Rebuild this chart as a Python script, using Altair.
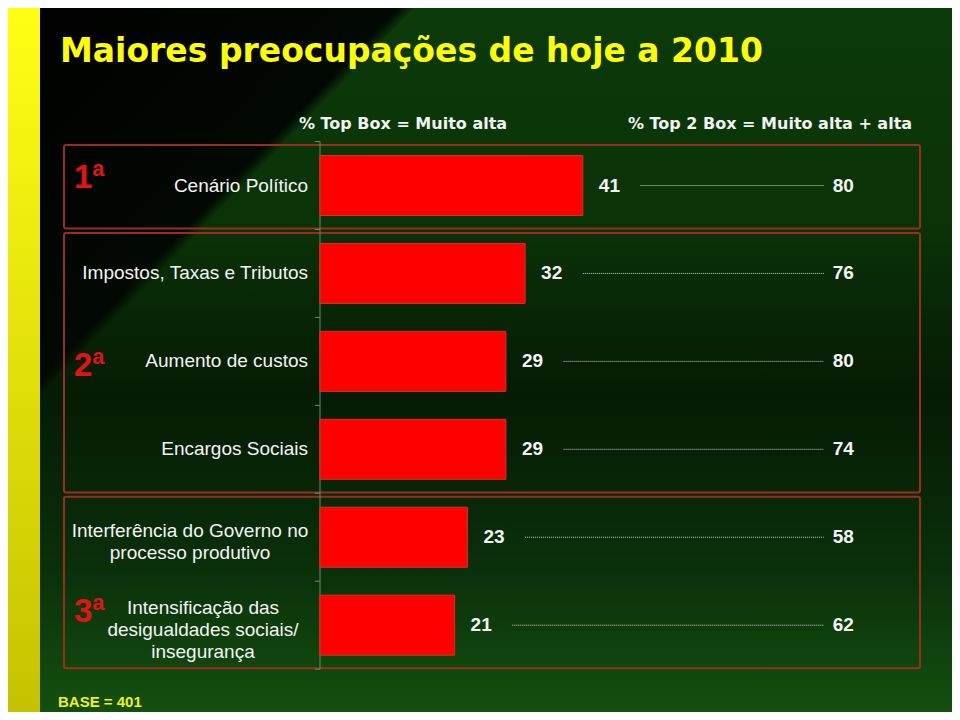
import altair as alt
import pandas as pd

# ---------------- data ----------------
categories = [
    "Cenário Político",
    "Impostos, Taxas e Tributos",
    "Aumento de custos",
    "Encargos Sociais",
    "Interferência do Governo no\nprocesso produtivo",
    "Intensificação das\ndesigualdades sociais/\ninsegurança",
]
top_box = [41, 32, 29, 29, 23, 21]
top2_box = [80, 76, 80, 74, 58, 62]
rank_labels = ["1ª", "2ª", "3ª"]
rank_rows = [0, 2, 5]
group_first = [0, 1, 4]
group_last = [0, 3, 5]
header_texts = ["% Top Box = Muito alta", "% Top 2 Box = Muito alta + alta"]
title_text = "Maiores preocupações de hoje a 2010"
base_note = "BASE = 401"

# ---------------- layout ----------------
W, H = 944, 704
PX_PER_UNIT = 6.41
X0 = 312          # pixel position of value 0
ROW0 = 175        # pixel centre of first row
ROW_STEP = 89.2
LINE_H = 22

xscale = alt.Scale(domain=[-X0 / PX_PER_UNIT, (W - X0) / PX_PER_UNIT], nice=False, zero=False)
yscale = alt.Scale(domain=[-ROW0 / ROW_STEP, (H - ROW0) / ROW_STEP], reverse=True, nice=False, zero=False)

rows = pd.DataFrame({"label": categories, "top": top_box, "top2": top2_box,
                     "row": list(range(len(categories)))})
rows["line_start"] = rows["top"] + 9
rows["line_end"] = 78.6
rows["right_x"] = 80.0
rows["nlines"] = rows["label"].str.count("\n") + 1
rows["multi"] = rows["nlines"] > 1
# first line of a wrapped label is shifted up so the block is centred on the row
rows["label_y"] = rows["row"] - ((rows["nlines"] - 1) * LINE_H / 2 - 5 * (rows["nlines"] > 1)) / ROW_STEP

groups = pd.DataFrame({"first": group_first, "last": group_last})
groups["y_top"] = groups["first"] - 0.46
groups["y_bot"] = groups["last"] + 0.49

ranks = pd.DataFrame({"rank": rank_labels, "row": rank_rows})

bounds = pd.DataFrame({"b": [i - 0.5 for i in range(len(categories) + 1)]})
bounds["x0"] = -0.8
bounds["x1"] = 0.0
axis_df = pd.DataFrame({"x": [0.0], "y1": [-0.5], "y2": [len(categories) - 0.5]})

one = pd.DataFrame({"k": [0]})

X = lambda f: alt.X(f, scale=xscale, axis=None)
Y = lambda f: alt.Y(f, scale=yscale, axis=None)

# ---------------- background ----------------
bg = alt.Chart(one).mark_rect(
    color=alt.Gradient(
        gradient="linear", x1=0, y1=0, x2=0, y2=1,
        stops=[
            alt.GradientStop(offset=0.0, color="#0c3a09"),
            alt.GradientStop(offset=0.3, color="#0a3307"),
            alt.GradientStop(offset=0.55, color="#051b04"),
            alt.GradientStop(offset=0.8, color="#0a300a"),
            alt.GradientStop(offset=1.0, color="#14500f"),
        ],
    )
).encode(x=alt.value(0), x2=alt.value(W), y=alt.value(0), y2=alt.value(H))

shade = alt.Chart(one).mark_rect(
    color=alt.Gradient(
        gradient="linear", x1=0, y1=0, x2=1, y2=0.72,
        stops=[
            alt.GradientStop(offset=0.0, color="rgba(0,0,0,1)"),
            alt.GradientStop(offset=0.272, color="rgba(2,8,2,1)"),
            alt.GradientStop(offset=0.284, color="rgba(0,0,0,0)"),
            alt.GradientStop(offset=1.0, color="rgba(0,0,0,0)"),
        ],
    )
).encode(x=alt.value(0), x2=alt.value(W), y=alt.value(0), y2=alt.value(H))

strip = alt.Chart(one).mark_rect(
    color=alt.Gradient(
        gradient="linear", x1=0, y1=0, x2=0, y2=1,
        stops=[alt.GradientStop(offset=0, color="#ffff14"),
               alt.GradientStop(offset=1, color="#c6c200")],
    )
).encode(x=alt.value(0), x2=alt.value(32), y=alt.value(0), y2=alt.value(H))

boxes = alt.Chart(groups).mark_rect(
    fillOpacity=0, stroke="#9a2d1c", strokeWidth=2, cornerRadius=2
).encode(x=alt.value(56), x2=alt.value(912), y=Y("y_top:Q"), y2="y_bot:Q")

axis_line = alt.Chart(axis_df).mark_rule(color="#6f876f", strokeWidth=1).encode(
    x=X("x:Q"), y=Y("y1:Q"), y2="y2:Q")
ticks = alt.Chart(bounds).mark_rule(color="#6f876f", strokeWidth=1).encode(
    x=X("x0:Q"), x2="x1:Q", y=Y("b:Q"))

bars = alt.Chart(rows).mark_bar(
    orient="horizontal", size=60, color="#ff0000", stroke="#c8391f", strokeWidth=1
).encode(x=X("top:Q"), y=Y("row:Q"))

val_text = alt.Chart(rows).mark_text(
    align="left", baseline="middle", dx=16, font="Liberation Sans", fontSize=19,
    color="#f4f4f4", fontWeight="bold"
).encode(x=X("top:Q"), y=Y("row:Q"), text="top:Q")

dots = alt.Chart(rows).mark_rule(
    color="#c9d3c9", strokeWidth=1, strokeDash=[1, 1]
).encode(x=X("line_start:Q"), x2="line_end:Q", y=Y("row:Q"))

right_text = alt.Chart(rows).mark_text(
    align="left", baseline="middle", font="Liberation Sans", fontSize=19,
    color="#f4f4f4", fontWeight="bold"
).encode(x=X("right_x:Q"), y=Y("row:Q"), text="top2:Q")

label_single = alt.Chart(rows).transform_filter("!datum.multi").mark_text(
    align="right", baseline="middle", font="Liberation Sans", fontSize=19, color="#f4f4f4"
).encode(x=alt.value(300), y=Y("label_y:Q"), text="label:N")

multi_rows = [r for r, c in enumerate(categories) if "\n" in c]
multi_centres = [182, 195]
label_multi = []
for r, xc in zip(multi_rows, multi_centres):
    label_multi.append(
        alt.Chart(rows).transform_filter(alt.datum.row == r).mark_text(
            align="center", baseline="middle", font="Liberation Sans", fontSize=19,
            color="#f4f4f4", lineBreak="\n", lineHeight=LINE_H
        ).encode(x=alt.value(xc), y=Y("label_y:Q"), text="label:N")
    )

rank_dy = {"1ª": -8, "2ª": 5, "3ª": -13}
rank_layers = []
for lab, dy in rank_dy.items():
    rank_layers.append(
        alt.Chart(ranks).transform_filter(alt.datum.rank == lab).mark_text(
            align="left", baseline="middle", font="Liberation Sans", fontSize=33,
            fontWeight="bold", color="#e3140e", dy=dy
        ).encode(x=alt.value(66), y=Y("row:Q"), text="rank:N")
    )

hdr = pd.DataFrame({"t": header_texts, "i": [0, 1]})
headers = []
for i, xc in enumerate([395, 762]):
    headers.append(
        alt.Chart(hdr).transform_filter(alt.datum.i == i).mark_text(
            align="center", baseline="middle", font="DejaVu Sans", fontSize=16,
            fontWeight="bold", color="#f2f2f2"
        ).encode(x=alt.value(xc), y=alt.value(116), text="t:N")
    )

title_df = pd.DataFrame({"t": [title_text]})
title = alt.Chart(title_df).mark_text(
    align="left", baseline="alphabetic", font="DejaVu Sans", fontSize=33,
    fontWeight="bold", color="#ffff00"
).encode(x=alt.value(52), y=alt.value(54), text="t:N")

base_df = pd.DataFrame({"t": [base_note]})
base = alt.Chart(base_df).mark_text(
    align="left", baseline="middle", font="Liberation Sans", fontSize=15,
    fontWeight="bold", color="#f2f21a"
).encode(x=alt.value(50), y=alt.value(694), text="t:N")

chart = alt.layer(
    bg, shade, strip, boxes, axis_line, ticks, bars, dots, val_text, right_text,
    label_single, *label_multi, *rank_layers, *headers, title, base
).properties(
    width=W, height=H, padding=0, autosize=alt.AutoSizeParams(type="none"),
    background="#0a2d08"
).configure_view(stroke=None)

chart.save("out.html", embed_options={"renderer": "svg", "actions": False})
